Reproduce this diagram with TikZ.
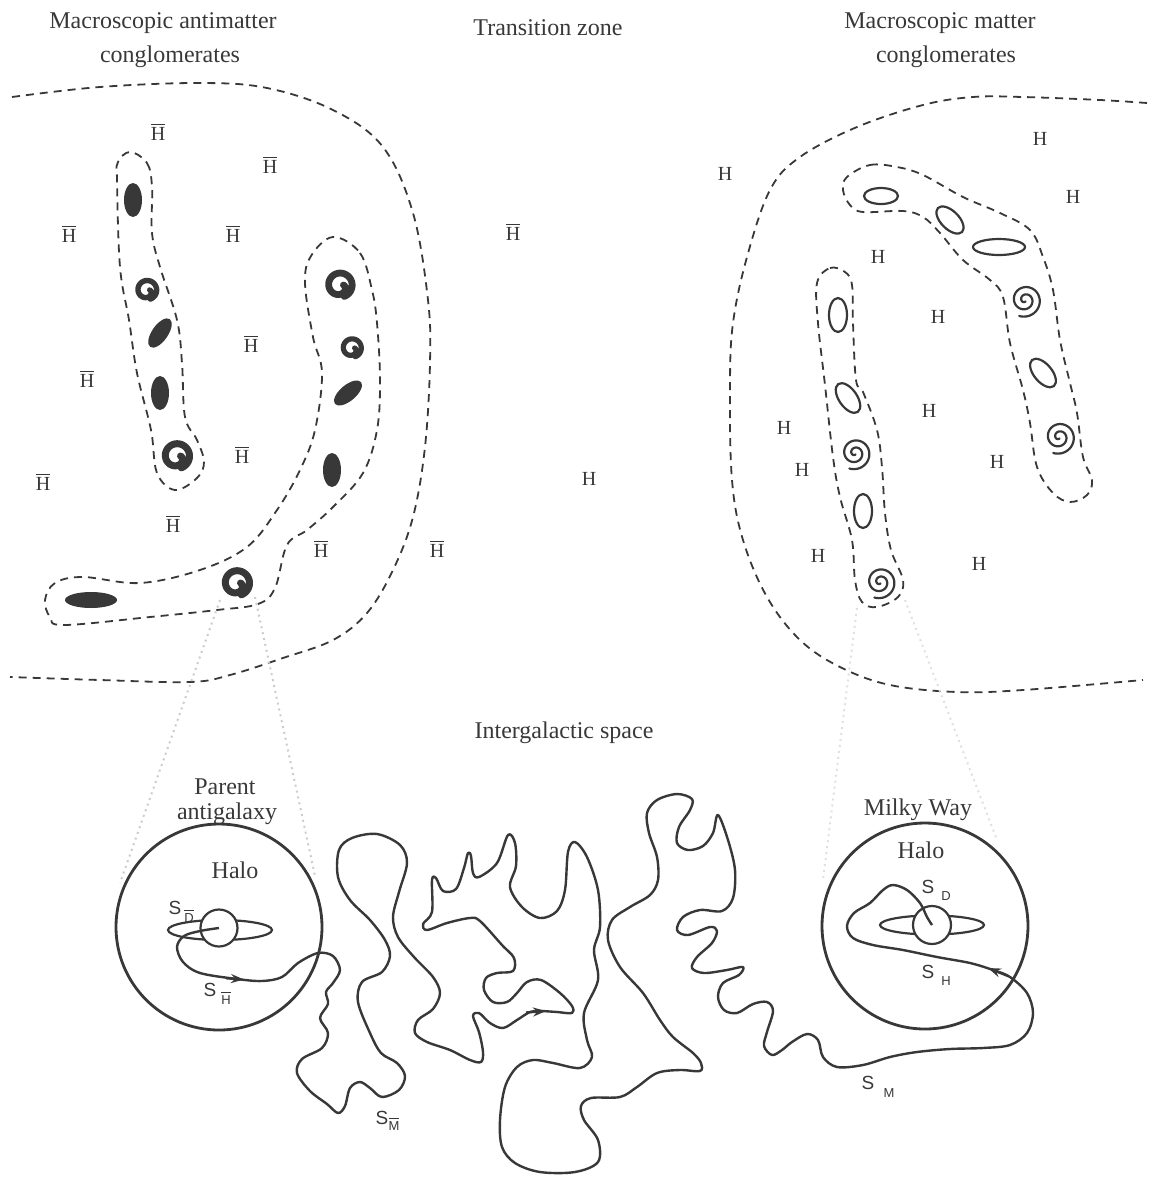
\documentclass[tikz,border=0pt]{standalone}
\usepackage{fontspec}
\setmainfont{Liberation Serif}
\setsansfont{Liberation Sans}
\usetikzlibrary{arrows.meta}
\definecolor{ink}{gray}{0.22}

% anti-hydrogen and hydrogen markers
\newcommand{\antiH}{$\overline{\mbox{H}}$}
% thick filled spiral galaxy (antimatter): x, y, radius
\newcommand{\darkspiral}[3]{%
  \pgfmathsetmacro\spw{#3*0.2}%
  \draw[ink, line width=\spw pt, line cap=round] plot[domain=0:430, samples=80, smooth]
    ({#1+#3*(0.72-0.52*exp(-\x/80))*cos(\x)},{#2+#3*(0.72-0.52*exp(-\x/80))*sin(\x)});}
% thin open spiral galaxy (matter): x, y, radius
\newcommand{\openspiral}[3]{%
  \draw[ink, line width=1.1pt, line cap=round] plot[domain=70:830, samples=100, smooth]
    ({#1+#3*\x/830*cos(\x)},{#2+#3*\x/830*sin(\x)});}

\begin{document}
\begin{tikzpicture}[x=0.5pt,y=-0.5pt,
  zone/.style={ink, line width=0.9pt, dash pattern=on 4pt off 3pt},
  blob/.style={fill=ink, draw=none},
  ring/.style={draw=ink, line width=1.1pt},
  halo/.style={draw=ink, line width=1.4pt, circle, inner sep=0pt},
  track/.style={draw=ink, line width=1.2pt, line join=round},
  guide/.style={draw=black!20, line width=1pt, dotted},
  title/.style={font=\fontsize{12}{14}\selectfont, text=ink, anchor=base, inner sep=0pt},
  atom/.style={font=\fontsize{10}{12}\selectfont, text=ink, anchor=south, inner sep=0pt},
  tag/.style={font=\sffamily\fontsize{9.5}{10}\selectfont, text=ink, inner sep=0pt},
  subtag/.style={font=\sffamily\fontsize{6.5}{8}\selectfont, text=ink, inner sep=0pt},
  tip/.style={-{Stealth[length=6.5pt,width=4.5pt]}, draw=ink, fill=ink, line width=1.2pt}]
\useasboundingbox (0,0) rectangle (1157,1185);

% ---------- headings ----------
\node[title] (ltitleA) at (163,28) {Macroscopic antimatter};
\node[title] (ltitleB) at (170,62) {conglomerates};
\node[title] (ttitle) at (548,35) {Transition zone};
\node[title] (rtitleA) at (940,28) {Macroscopic matter};
\node[title] (rtitleB) at (946,62) {conglomerates};
\node[title] (space) at (564,738) {Intergalactic space};

% ---------- antimatter domain boundary ----------
\draw[zone] plot[smooth, tension=0.6] coordinates {
  (12,97) (100,87) (200,83) (267,88) (333,110) (383,147) (413,213) (428,300)
  (430,363) (425,447) (413,517) (393,570) (367,613) (333,640) (283,658)
  (230,675) (190,682) (100,680) (10,677)};

% ---------- matter domain boundary ----------
\draw[zone] plot[smooth, tension=0.6] coordinates {
  (1147,103) (1100,100) (1023,97) (973,97) (923,105) (857,127) (800,157)
  (770,190) (747,257) (733,323) (730,387) (732,480) (743,540) (767,597)
  (800,640) (840,667) (890,685) (957,692) (1023,690) (1143,680)};

% ---------- antigalaxy filaments ----------
\draw[zone] plot[smooth cycle, tension=0.6] coordinates {
  (130,152) (147,163) (152,187) (152,233) (160,267) (177,320) (182,363)
  (185,417) (197,440) (204,462) (197,478) (175,490) (157,473) (151,430)
  (137,373) (129,320) (120,267) (117,180) (118,162)};
\draw[zone] plot[smooth cycle, tension=0.6] coordinates {
  (333,237) (360,253) (372,290) (377,323) (380,380) (377,430) (363,473)
  (333,507) (307,530) (287,545) (275,588) (258,604) (217,610) (150,617)
  (64,625) (50,617) (45,600) (55,583) (83,577) (140,583) (200,570)
  (247,547) (277,510) (300,470) (315,430) (322,373) (313,337) (305,283) (311,256)};

% ---------- galaxy filaments ----------
\draw[zone] plot[smooth cycle, tension=0.6] coordinates {
  (847,177) (870,165) (897,167) (923,175) (963,197) (1000,213) (1030,230)
  (1043,257) (1053,290) (1060,340) (1070,383) (1077,413) (1083,457)
  (1092,480) (1087,495) (1070,502) (1053,493) (1037,467) (1030,423)
  (1023,390) (1010,343) (1003,297) (990,280) (963,260) (940,233) (923,217)
  (903,211) (863,212) (850,205) (843,190)};
\draw[zone] plot[smooth cycle, tension=0.6] coordinates {
  (817,283) (830,268) (845,272) (852,285) (853,323) (856,380) (863,392)
  (877,430) (882,467) (885,513) (891,550) (903,580) (898,597) (877,607)
  (862,602) (855,580) (852,540) (840,497) (833,457) (825,385) (818,323)};

% ---------- antigalaxies ----------
\fill[blob] (133,200) ellipse [x radius=9, y radius=17];
\darkspiral{147}{290}{13.5}
\fill[blob, rotate around={55:(160,333)}] (160,333) ellipse [x radius=17, y radius=8];
\fill[blob] (160,393) ellipse [x radius=9, y radius=17];
\darkspiral{177}{456}{17.5}
\darkspiral{340}{285}{17}
\darkspiral{352}{348}{13}
\fill[blob, rotate around={40:(348,393)}] (348,393) ellipse [x radius=17, y radius=8];
\fill[blob] (332,470) ellipse [x radius=9, y radius=17];
\darkspiral{237}{583}{17.5}
\fill[blob] (91,600) ellipse [x radius=26, y radius=8];

% ---------- galaxies ----------
\draw[ring] (881,196) ellipse [x radius=17, y radius=8];
\draw[ring, rotate around={-45:(950,220)}] (950,220) ellipse [x radius=17, y radius=9];
\draw[ring] (999,247) ellipse [x radius=26, y radius=8];
\openspiral{1025}{300}{17}
\draw[ring, rotate around={-50:(1043,373)}] (1043,373) ellipse [x radius=17, y radius=9];
\openspiral{1059}{437}{17}
\draw[ring] (838,315) ellipse [x radius=9, y radius=17];
\draw[ring, rotate around={-55:(848,398)}] (848,398) ellipse [x radius=17, y radius=9];
\openspiral{855}{453}{16.5}
\draw[ring] (863,511) ellipse [x radius=9, y radius=17];
\openspiral{880}{582}{16.5}

% ---------- free atoms ----------
\node[atom] (a1) at (158,141) {\antiH};
\node[atom] (a2) at (270,174) {\antiH};
\node[atom] (a3) at (233,243) {\antiH};
\node[atom] (a4) at (69,243) {\antiH};
\node[atom] (a5) at (251,353) {\antiH};
\node[atom] (a6) at (87,388) {\antiH};
\node[atom] (a7) at (242,464) {\antiH};
\node[atom] (a8) at (43,491) {\antiH};
\node[atom] (a9) at (173,533) {\antiH};
\node[atom] (a10) at (321,558) {\antiH};
\node[atom] (a11) at (437,558) {\antiH};
\node[atom] (a12) at (513,241) {\antiH};
\node[atom] (h1) at (589,486) {H};
\node[atom] (h2) at (725,181) {H};
\node[atom] (h3) at (1040,146) {H};
\node[atom] (h4) at (1073,204) {H};
\node[atom] (h5) at (878,264) {H};
\node[atom] (h6) at (938,324) {H};
\node[atom] (h7) at (929,418) {H};
\node[atom] (h8) at (784,435) {H};
\node[atom] (h9) at (997,469) {H};
\node[atom] (h10) at (802,477) {H};
\node[atom] (h11) at (818,563) {H};
\node[atom] (h12) at (979,571) {H};

% ---------- magnification guides ----------
\draw[guide] (220,600) -- (120,883);
\draw[guide] (255,597) -- (315,876);
\draw[guide, draw=black!12] (857,608) -- (823,880);
\draw[guide, draw=black!12] (905,600) -- (997,840);

% ---------- parent antigalaxy ----------
\node[title] (parentA) at (225,794) {Parent};
\node[title] (parentB) at (227,819) {antigalaxy};
\node[halo, minimum size=103pt] (lhalo) at (219,927) {};
\node[title] (lhalotext) at (235,878) {Halo};
\draw[ring] (220,930) ellipse [x radius=52, y radius=10];
\node[halo, fill=white, line width=1.1pt, minimum size=18.5pt] (lcore) at (219,928) {};

% ---------- Milky Way ----------
\node[title] (mw) at (918,815) {Milky Way};
\node[halo, minimum size=103pt] (rhalo) at (925,926) {};
\node[title] (rhalotext) at (921,858) {Halo};
\draw[ring] (932,925) ellipse [x radius=52, y radius=9.5];
\node[halo, fill=white, line width=1.1pt, minimum size=19pt] (rcore) at (932,925) {};

% ---------- escape trajectory ----------
\draw[track] plot[smooth, tension=0.55] coordinates {
  (lcore.center) (200,931) (184,936) (177,947) (183,962) (200,973) (237,979)
  (262,981) (282,977) (298,963) (318,953) (333,956) (340,970) (333,983)
  (326,992) (328,1004) (320,1018) (328,1033) (322,1048) (302,1059)
  (297,1073) (310,1091) (327,1104) (338,1113) (345,1106) (350,1088)
  (360,1082) (370,1088) (382,1097) (399,1090) (405,1076) (397,1063)
  (381,1053) (370,1033) (358,1002) (362,982) (382,972) (390,956) (385,940)
  (370,920) (350,900) (338,877) (339,850) (352,838) (377,834) (400,845)
  (407,863) (399,892) (393,917) (398,937) (414,957) (433,977) (440,993)
  (433,1009) (418,1020) (415,1033) (427,1042) (450,1050) (470,1060)
  (481,1062) (483,1052) (479,1032) (473,1016) (479,1013) (490,1023)
  (503,1028) (517,1020) (530,1012) (540,1011) (557,1012) (572,1013)
  (572,1006) (560,993) (541,980) (527,982) (517,993) (507,1002) (493,1002)
  (484,990) (486,978) (497,973) (513,971) (514,958) (502,945) (480,921)
  (470,918) (447,923) (427,930) (423,924) (432,912) (432,880) (436,878)
  (443,891) (456,889) (464,868) (468,853) (471,856) (473,873) (479,877)
  (497,863) (508,835) (515,843) (516,866) (510,887) (522,907) (540,918)
  (557,911) (565,890) (568,852) (575,842) (587,857) (598,890) (600,927)
  (594,950) (598,980) (584,1013) (587,1040) (592,1057) (580,1068)
  (553,1063) (533,1060) (517,1067) (505,1087) (500,1120) (502,1147)
  (515,1163) (540,1172) (575,1172) (598,1162) (598,1140) (584,1120)
  (581,1106) (591,1098) (620,1097) (637,1087) (657,1073) (680,1070)
  (700,1071) (701,1063) (693,1053) (673,1037) (660,1020) (643,993)
  (620,967) (608,940) (612,920) (630,907) (650,895) (658,880) (657,857)
  (649,833) (647,813) (657,800) (677,794) (692,799) (690,810) (679,827)
  (677,843) (688,850) (703,846) (713,833) (718,815) (728,840) (735,870)
  (733,898) (722,911) (700,910) (683,917) (677,930) (688,935) (710,927)
  (717,931) (712,943) (697,957) (692,968) (704,973) (727,970) (743,967)
  (739,975) (723,983) (718,997) (724,1010) (737,1013) (753,1004) (767,1002)
  (773,1011) (767,1032) (764,1046) (772,1055) (782,1050) (792,1042)
  (807,1034) (818,1040) (823,1057) (837,1067) (863,1065) (890,1057)
  (917,1052) (950,1049) (983,1048) (1010,1045) (1027,1033) (1033,1013)
  (1027,993) (1010,977) (993,970) (970,963) (937,957) (903,950) (873,945)
  (853,938) (847,926) (854,913) (870,903) (883,890) (893,885) (907,890)
  (920,903) (927,917) (rcore.center)};

% direction marks along the trajectory
\coordinate (t1a) at (226,978.2);
\coordinate (t1b) at (244,979.5);
\coordinate (t2a) at (526,1012.5);
\coordinate (t2b) at (546,1011);
\coordinate (t3a) at (1008,976);
\coordinate (t3b) at (988,968);
\draw[tip] (t1a) -- (t1b);
\draw[tip] (t2a) -- (t2b);
\draw[tip] (t3a) -- (t3b);

% ---------- trajectory labels ----------
\node[tag] (sdl) at (175,908) {S};
\node[subtag] (sdlsub) at (189,916) {$\overline{\mbox{D}}$};
\node[tag] (shl) at (210,990) {S};
\node[subtag] (shlsub) at (226,998) {$\overline{\mbox{H}}$};
\node[tag] (sml) at (382,1118) {S};
\node[subtag] (smlsub) at (394,1124) {$\overline{\mbox{M}}$};
\node[tag] (sdr) at (928,887) {S};
\node[subtag] (sdrsub) at (946,896) {D};
\node[tag] (shr) at (928,972) {S};
\node[subtag] (shrsub) at (946,981) {H};
\node[tag] (smr) at (868,1083) {S};
\node[subtag] (smrsub) at (889,1093) {M};
\end{tikzpicture}
\end{document}
